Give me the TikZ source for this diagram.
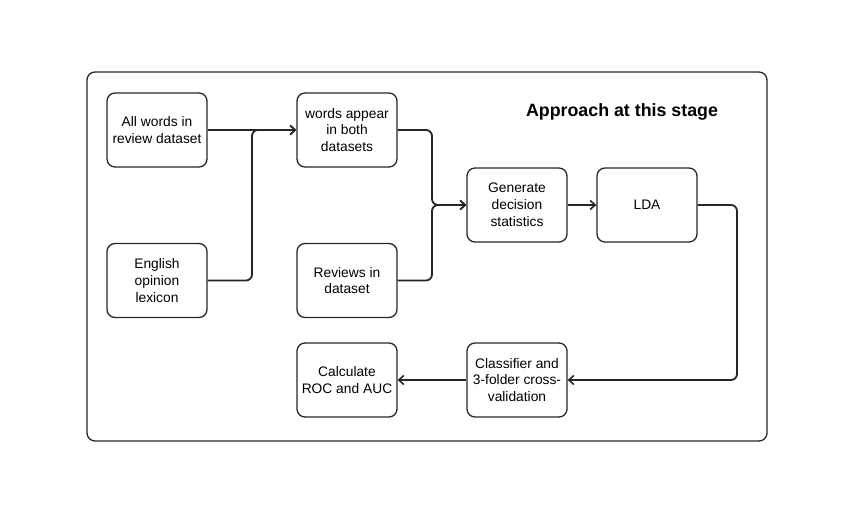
\documentclass[tikz,border=0pt]{standalone}
\usepackage{fontspec}
\setmainfont{Liberation Sans}
\usetikzlibrary{arrows.meta,calc}

\tikzset{
  stagebox/.style={draw=black!85,line width=1.3bp,rounded corners=8bp,
    minimum width=100bp,minimum height=74bp,inner sep=2bp,align=center,
    font=\fontsize{13.8bp}{16.8bp}\selectfont},
  flow/.style={draw=black!85,line width=1.8bp,rounded corners=6bp,
    -{Straight Barb[length=5bp,width=9bp,line width=1.6bp]}}
}

\begin{document}
\begin{tikzpicture}[x=1bp,y=-1bp]
\useasboundingbox (0,0) rectangle (860,509);
%frame
\draw[black!85,line width=1.3bp,rounded corners=8bp] (87,72) rectangle (767,441);
\node[font=\bfseries\fontsize{17.8bp}{20bp}\selectfont] (title) at (622,112) {Approach at this stage};
%boxes
\node[stagebox] (words) at (157,130) {All words in\\review dataset};
\node[stagebox] (lexicon) at (157,280.5) {English\\opinion\\lexicon};
\node[stagebox] (both) at (347,130) {words appear\\in both\\datasets};
\node[stagebox] (reviews) at (347,280.5) {Reviews in\\dataset};
\node[stagebox] (stats) at (517,205) {Generate\\decision\\statistics};
\node[stagebox] (lda) at (647,205) {LDA};
\node[stagebox] (classifier) at (517,380) {Classifier and\\3-folder cross-\\validation};
\node[stagebox] (roc) at (347,380) {Calculate\\ROC and AUC};
%connectors
\draw[flow] (words.east) -- (both.west);
\draw[flow] (lexicon.east) -- (252,280.5) -- (252,130) -- (both.west);
\draw[flow] (both.east) -- (432,130) -- (432,205) -- (stats.west);
\draw[flow] (reviews.east) -- (432,280.5) -- (432,205) -- (stats.west);
\draw[flow] (stats.east) -- (lda.west);
\draw[flow] (lda.east) -- (737,205) -- (737,380) -- (classifier.east);
\draw[flow] (classifier.west) -- (roc.east);
\end{tikzpicture}
\end{document}
